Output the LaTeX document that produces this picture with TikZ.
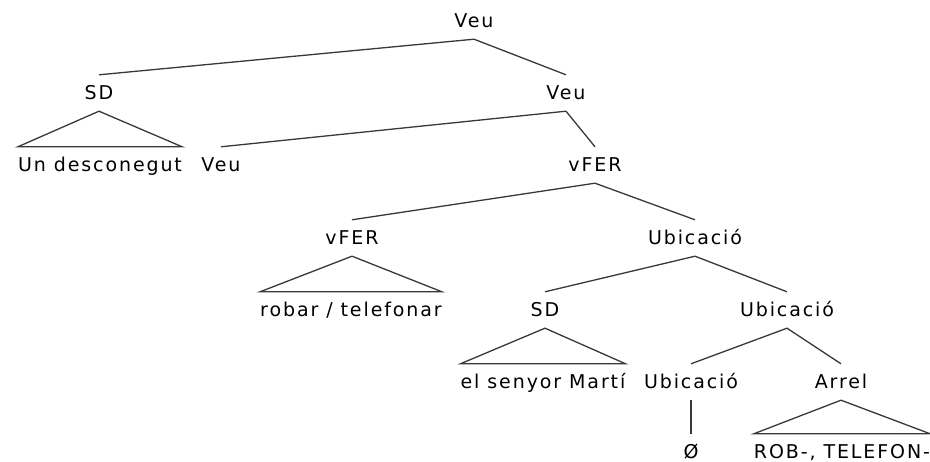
\documentclass[tikz,border=0pt]{standalone}
\usepackage{fontspec}
\setmainfont{DejaVu Sans}[LetterSpace=10]
\begin{document}
\begin{tikzpicture}[x=1pt,y=-1pt,
  lbl/.style={anchor=base,font=\fontsize{19}{22}\selectfont,text height=14pt,text depth=0pt,inner xsep=0pt,inner ysep=11pt,text=black},
  leaf/.style={lbl,text height=25pt,text depth=2pt,inner ysep=0pt},
  edge/.style={draw=black!78,line width=1.3pt,line join=miter}]
\useasboundingbox (0,0) rectangle (930,462);
% row 0
\node[lbl] (root) at (474,28) {Veu};
% row 1
\node[lbl] (sd1) at (99,100) {SD};
\node[lbl] (veu1) at (566,100) {Veu};
% row 2
\node[lbl] (un) at (100,172) {Un desconegut};
\node[lbl] (veu2) at (221,172) {Veu};
\node[lbl] (vfer2) at (595,172) {vFER};
% row 3
\node[lbl] (vfer3) at (352,245) {vFER};
\node[lbl] (ubic3) at (695,245) {Ubicació};
% row 4
\node[lbl] (robar) at (351,317) {robar / telefonar};
\node[lbl] (sd4) at (545,317) {SD};
\node[lbl] (ubic4) at (787,317) {Ubicació};
% row 5
\node[lbl] (marti) at (543,389) {el senyor Martí};
\node[lbl] (ubic5) at (691,389) {Ubicació};
\node[lbl] (arrel) at (841,389) {Arrel};
% row 6
\node[leaf] (zero) at (691,459) {Ø};
\node[leaf] (rob) at (842,459) {ROB-, TELEFON-};
% edges
\draw[edge] (sd1.north) -- (root.south) -- (veu1.north);
\draw[edge] (veu2.north) -- (veu1.south) -- (vfer2.north);
\draw[edge] (vfer3.north) -- (vfer2.south) -- (ubic3.north);
\draw[edge] (sd4.north) -- (ubic3.south) -- (ubic4.north);
\draw[edge] (ubic5.north) -- (ubic4.south) -- (arrel.north);
\draw[edge] (ubic5.south) -- (zero.north);
% triangles
\draw[edge] (sd1.south) -- (un.north west) -- (un.north east) -- cycle;
\draw[edge] (vfer3.south) -- (robar.north west) -- (robar.north east) -- cycle;
\draw[edge] (sd4.south) -- (marti.north west) -- (marti.north east) -- cycle;
\draw[edge] (arrel.south) -- (rob.north west) -- (rob.north east) -- cycle;
\end{tikzpicture}
\end{document}
